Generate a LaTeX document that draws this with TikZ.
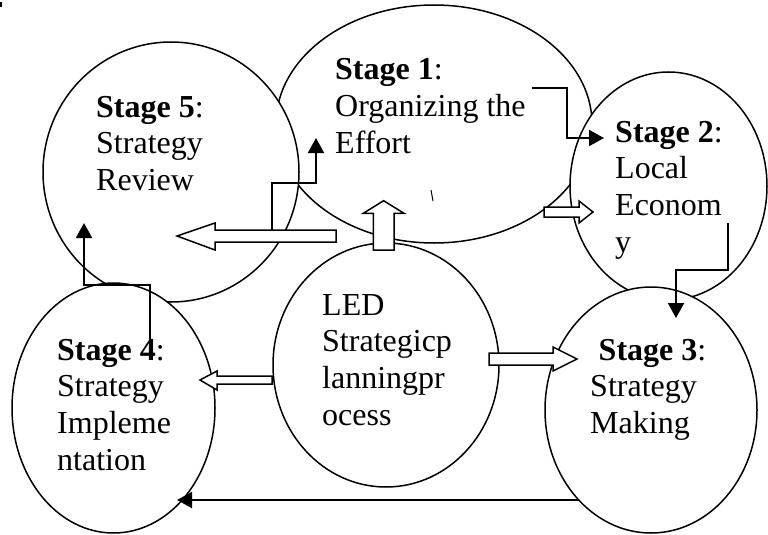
\documentclass[tikz,border=0pt]{standalone}
\usepackage{fontspec}
\setmainfont{Liberation Serif}
\usetikzlibrary{arrows.meta,shapes.geometric}
\begin{document}
\begin{tikzpicture}[x=1pt,y=-1pt,
  stage/.style={ellipse, draw, line width=1.5pt, fill=white, inner sep=0pt, outer sep=0pt},
  txt/.style={font=\fontsize{32}{36.8}\selectfont, inner sep=0pt, anchor=base west},
  elbow/.style={line width=2pt, -{Triangle[length=15pt,width=16pt]}},
  blockarrow/.style={draw, line width=1.5pt, fill=white, line join=miter}]
\useasboundingbox (0,0) rectangle (768,535);
\fill (0,2) rectangle (2,7);
% stage ellipses (drawing order matters: later ones cover earlier ones)
\node[stage, minimum width=316pt, minimum height=238pt] (s1) at (434,124) {};
\node[stage, minimum width=197pt, minimum height=228pt] (s2) at (668.5,186) {};
\node[stage, minimum width=256pt, minimum height=260pt] (s5) at (171,172) {};
\node[stage, minimum width=203pt, minimum height=250pt] (s4) at (113.5,408) {};
\node[stage, minimum width=212pt, minimum height=246pt] (s3) at (651,410) {};
\node[stage, minimum width=226pt, minimum height=244pt] (led) at (386,365) {};
% block (hollow) arrows
\draw[blockarrow] (336,230) -- (215,230) -- (215,223) -- (177,236) -- (215,250) -- (215,242) -- (336,242) -- cycle;
\draw[blockarrow] (373.3,250) -- (373.3,213.3) -- (363.3,213.3) -- (383.6,200.7) -- (404,213.3) -- (394,213.3) -- (394,250) -- cycle;
\draw[blockarrow] (544,207) -- (579,207) -- (579,201) -- (593,212) -- (579,223) -- (579,217) -- (544,217) -- cycle;
\draw[blockarrow] (489,353) -- (553,353) -- (553,347) -- (577,359) -- (553,371) -- (553,365) -- (489,365) -- cycle;
\draw[blockarrow] (272,376) -- (217,376) -- (217,371) -- (200,380) -- (217,390) -- (217,384) -- (272,384) -- cycle;
% elbow connectors
\coordinate (a5) at (272,230);
\coordinate (a1) at (316,138);
\draw[elbow] (a5) -- (272,183) -- (316,183) -- (a1);
\coordinate (b1) at (532,88);
\coordinate (b2) at (604,138);
\draw[elbow] (b1) -- (567,88) -- (567,138) -- (b2);
\coordinate (c2) at (728,223);
\coordinate (c3) at (676,318);
\draw[elbow] (c2) -- (728,270) -- (676,270) -- (c3);
\coordinate (d4) at (150,342);
\coordinate (d5) at (84,223);
\draw[elbow] (d4) -- (150,285) -- (84,285) -- (d5);
\coordinate (f3) at (579,500);
\coordinate (f4) at (177,500);
\draw[elbow] (f3) -- (f4);
\draw[line width=1pt] (431,190) -- (433,201);
% texts
\node[txt] (t1) at (335,80) {\vtop{\hbox{\textbf{Stage 1}:}\hbox{Organizing the}\hbox{Effort}}};
\node[txt] (t2) at (615,142) {\vtop{\hbox{\textbf{Stage 2}:}\hbox{Local}\hbox{Econom}\hbox{y}}};
\node[txt] (t3) at (590,360) {\vtop{\hbox{\hspace{8.5pt}\textbf{Stage 3}:}\hbox{Strategy}\hbox{Making}}};
\node[txt] (t4) at (57,360) {\vtop{\hbox{\textbf{Stage 4}:}\hbox{Strategy}\hbox{Impleme}\hbox{ntation}}};
\node[txt] (t5) at (96,117) {\vtop{\hbox{\textbf{Stage 5}:}\hbox{Strategy}\hbox{Review}}};
\node[txt] (tled) at (322,315) {\vtop{\hbox{LED}\hbox{Strategicp}\hbox{lanningpr}\hbox{ocess}}};
\end{tikzpicture}
\end{document}
